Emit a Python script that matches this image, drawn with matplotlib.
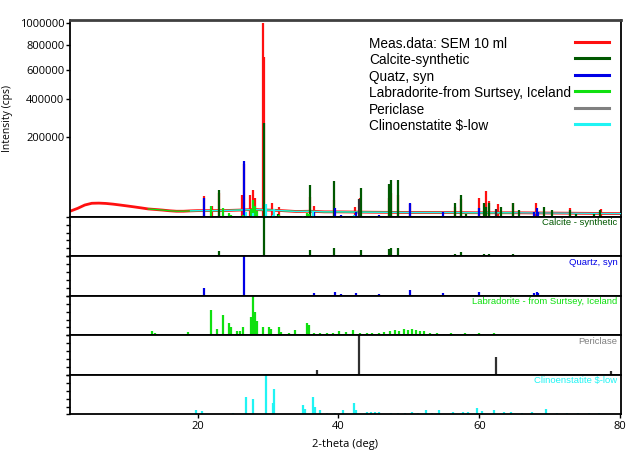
import numpy as np
import matplotlib
matplotlib.use('Agg')
import matplotlib.pyplot as plt
from matplotlib.lines import Line2D

bg_theta = [2, 3, 4, 5, 6, 7, 8, 9, 10, 11, 12, 13, 14, 15, 16, 17, 18, 19, 20, 22, 24, 26,
            28, 30, 32, 34, 36, 38, 40, 45, 50, 55, 60, 65, 70, 75, 80]
bg_counts = [7200, 9600, 13000, 15000, 15200, 14800, 14000, 13000, 12000, 11000, 10000, 9000,
             8500, 8000, 7400, 7000, 7000, 7300, 7500, 7500, 7600, 8000, 8500, 8000, 7500, 6800,
             7000, 6500, 6500, 6200, 6000, 6000, 5800, 5800, 5600, 5400, 5200]

meas_pos = [20.85, 22.0, 23.05, 26.3, 26.6, 27.5, 27.9, 28.2, 29.35, 29.45, 30.5, 31.5, 35.95,
            36.5, 39.4, 42.3, 43.0, 47.1, 47.5, 48.5, 50.1, 56.6, 57.4, 59.9, 61.0, 61.4,
            62.6, 64.7, 68.1, 72.8, 77.2]
meas_int = [25000, 12000, 30000, 26500, 100000, 26000, 35000, 22000, 1000000, 700000, 15000,
            11000, 24000, 12000, 19000, 11000, 21500, 21500, 29000, 26000, 14000, 11000, 20000,
            21500, 34000, 18000, 14000, 15000, 15700, 9600, 8500]

# --- reference phases (relative intensities) ---
cal_pos = [23.05, 29.4, 31.4, 35.95, 39.4, 43.15, 47.1, 47.5, 48.5, 56.55, 57.4, 58.1, 60.7,
           61.0, 61.4, 63.05, 64.7, 65.6, 69.2, 70.25, 72.9, 73.7, 76.3, 77.15]
cal_rel = [0.13, 1.0, 0.02, 0.17, 0.20, 0.15, 0.18, 0.21, 0.21, 0.06, 0.10, 0.02, 0.06, 0.04,
           0.06, 0.04, 0.06, 0.03, 0.04, 0.03, 0.03, 0.02, 0.02, 0.03]

qz_pos = [20.86, 26.64, 36.54, 39.46, 40.29, 42.45, 45.79, 50.14, 54.87, 55.33, 59.96, 64.03,
          67.74, 68.14, 68.32, 73.47, 75.66, 77.67, 79.88]
qz_rel = [0.20, 1.0, 0.06, 0.09, 0.04, 0.06, 0.04, 0.14, 0.06, 0.03, 0.09, 0.03, 0.06, 0.09,
          0.06, 0.02, 0.02, 0.02, 0.03]

lab_pos = [13.6, 13.9, 15.0, 15.5, 18.7, 20.2, 21.9, 22.7, 23.55, 24.4, 24.7, 25.6, 26.0, 26.5,
           27.6, 27.9, 28.1, 28.5, 29.3, 30.1, 30.4, 31.5, 31.9, 33.0, 33.8, 35.6, 35.8, 36.5,
           37.4, 38.3, 39.2, 40.1, 41.0, 42.0, 43.0, 44.0, 44.8, 45.7, 46.5, 47.3, 48.0, 48.6,
           49.3, 49.8, 50.4, 51.0, 51.6, 52.2, 53.0, 54.0, 55.0, 56.0, 57.0, 58.0, 59.0, 60.0,
           61.2, 62.0, 63.0, 64.0, 65.0]
lab_rel = [0.10, 0.06, 0.03, 0.03, 0.08, 0.02, 0.64, 0.15, 0.51, 0.30, 0.22, 0.10, 0.12, 0.22,
           0.47, 1.0, 0.60, 0.36, 0.20, 0.20, 0.17, 0.22, 0.08, 0.05, 0.13, 0.30, 0.25, 0.06,
           0.07, 0.06, 0.07, 0.10, 0.08, 0.13, 0.06, 0.07, 0.05, 0.06, 0.08, 0.12, 0.14, 0.10,
           0.15, 0.13, 0.16, 0.14, 0.12, 0.10, 0.06, 0.05, 0.04, 0.05, 0.04, 0.05, 0.04, 0.05,
           0.04, 0.05, 0.04, 0.04, 0.03]

per_pos = [36.94, 42.92, 62.30, 74.69, 78.63]
per_rel = [0.12, 1.0, 0.46, 0.02, 0.11]

cen_pos = [13.8, 19.85, 20.6, 21.5, 25.0, 26.85, 27.85, 29.7, 30.7, 30.8, 31.8, 35.0, 35.3,
           36.4, 36.6, 37.4, 38.4, 39.5, 40.65, 42.2, 42.5, 44.0, 44.6, 45.2, 45.8, 47.5, 48.5,
           49.5, 50.5, 51.3, 52.4, 53.3, 54.3, 56.2, 57.6, 58.4, 59.6, 60.4, 62.0, 63.5, 64.5,
           66.0, 67.5, 69.4, 71.0, 72.5, 74.0, 75.5, 77.0, 78.5]
cen_rel = [0.01, 0.11, 0.08, 0.01, 0.03, 0.43, 0.38, 1.0, 0.30, 0.65, 0.02, 0.25, 0.15, 0.43,
           0.20, 0.10, 0.03, 0.03, 0.10, 0.30, 0.12, 0.05, 0.05, 0.05, 0.05, 0.03, 0.03, 0.04,
           0.07, 0.04, 0.10, 0.04, 0.12, 0.06, 0.07, 0.05, 0.16, 0.08, 0.10, 0.05, 0.07, 0.04,
           0.05, 0.13, 0.03, 0.03, 0.03, 0.03, 0.03, 0.02]

# overlay scale of each phase in the top plot (cps at relative 1.0)
phase_scale = [263000, 109000, 19000, 20000, 14000]

phase_names = ['Calcite-synthetic', 'Quatz, syn', 'Labradorite-from Surtsey, Iceland',
               'Periclase', 'Clinoenstatite $-low']
panel_labels = ['Calcite - synthetic', 'Quartz, syn', 'Labradorite - from Surtsey, Iceland',
                'Periclase', 'Clinoenstatite $-low']
phase_colors = ['#005800', '#0000e6', '#10e010', '#303030', '#20f4f4']
legend_colors = ['#005800', '#0000e6', '#10e010', '#808080', '#20f4f4']
phases = [(cal_pos, cal_rel), (qz_pos, qz_rel), (lab_pos, lab_rel), (per_pos, per_rel),
          (cen_pos, cen_rel)]

W, H = 638, 467
fig = plt.figure(figsize=(W / 100, H / 100), dpi=100)
tick_font = 'Open Sans'

x0, x1 = 70, 620.7
main_top, main_bot = 20, 216.7
panel_h = 39.55
xlim = (1.9, 80.05)
ybot = 3250


def add_ax(top_px, bot_px):
    return fig.add_axes([x0 / W, 1 - bot_px / H, (x1 - x0) / W, (bot_px - top_px) / H])


# --- top plot ---
ax = add_ax(main_top, main_bot)
ax.set_yscale('function', functions=(lambda v: np.sqrt(np.clip(v, 0, None)), lambda v: v ** 2))
ax.set_xlim(*xlim)
ax.set_ylim(ybot, 1.0335e6)

ax.plot(bg_theta, bg_counts, color='#ff1010', lw=2.0, zorder=2)
ax.vlines(meas_pos, ybot, meas_int, color='#ff1010', lw=1.6, zorder=2)

bg_t = np.array(bg_theta)
bg_c = np.array(bg_counts)
m = (bg_t >= 13) & (bg_t <= 66)
ax.plot(bg_t[m], bg_c[m], color=phase_colors[2], lw=0.9, zorder=3)
m = bg_t >= 19
ax.plot(bg_t[m], bg_c[m], color=phase_colors[4], lw=0.9, zorder=3)

for (pos, rel), col, sc in zip(phases, phase_colors, phase_scale):
    ax.vlines(pos, ybot, np.array(rel) * sc, color=col, lw=1.6, zorder=3)

ax.set_yticks([200000, 400000, 600000, 800000, 1000000])
ax.set_yticklabels(['200000', '400000', '600000', '800000', '1000000'],
                   fontsize=8, family=tick_font)
ax.set_xticks([])
ax.tick_params(axis='y', direction='out', length=3, width=1, pad=1)
ax.set_ylabel('Intensity (cps)', fontsize=7.5, family=tick_font, labelpad=5)
ax.spines['top'].set_color('#404040')
for s in ax.spines.values():
    s.set_linewidth(1.3)
ax.spines['top'].set_linewidth(2)

# legend drawn by hand
leg_names = ['Meas.data: SEM 10 ml'] + phase_names
leg_cols = ['#ff1010'] + legend_colors
for i, (name, col) in enumerate(zip(leg_names, leg_cols)):
    y = 44 + i * 16.4
    fig.text(369 / W, 1 - y / H, name, fontsize=9.8, family='Liberation Sans',
             va='center', ha='left')
    fig.add_artist(Line2D([575 / W, 609 / W], [1 - (y - 2) / H, 1 - (y - 2) / H],
                          color=col, lw=2.2, transform=fig.transFigure))

# --- phase panels ---
for i, ((pos, rel), col, lab) in enumerate(zip(phases, phase_colors, panel_labels)):
    top = main_bot + i * panel_h
    pax = add_ax(top, top + panel_h)
    pax.set_xlim(*xlim)
    pax.set_ylim(0, 1.0)
    pax.vlines(pos, 0, rel, color=col, lw=1.6)
    pax.set_yticks(np.linspace(0, 1, 6))
    pax.set_yticklabels([])
    pax.tick_params(axis='y', direction='out', length=3, width=1)
    for s in pax.spines.values():
        s.set_linewidth(1.3)
    tcol = '#808080' if i == 3 else col
    pax.text(0.994, 0.96, lab, transform=pax.transAxes, ha='right', va='top',
             fontsize=6.8, family='Liberation Sans', color=tcol)
    if i < 4:
        pax.set_xticks([])
    else:
        pax.set_xticks([20, 40, 60, 80])
        pax.set_xticklabels(['20', '40', '60', '80'], fontsize=8, family=tick_font)
        pax.tick_params(axis='x', direction='out', length=3, width=1, pad=2)
        pax.set_xlabel('2-theta (deg)', fontsize=8, family=tick_font, labelpad=5)

fig.savefig('out.png', dpi=100)
